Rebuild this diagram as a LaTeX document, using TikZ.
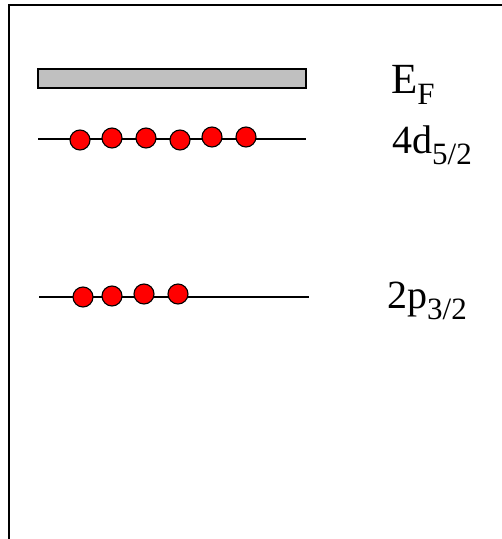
\documentclass[tikz,border=0pt]{standalone}
\usepackage{fontspec}
\setmainfont{Liberation Serif}
\usetikzlibrary{positioning}

\newcommand{\lvltext}[3]{{\fontsize{#1}{#1}\selectfont #2}\raisebox{-11pt}{\fontsize{31}{31}\selectfont #3}}

\begin{document}
\begin{tikzpicture}[x=1pt,y=-1pt,
 electron/.style={circle,draw,fill=red,line width=1.1pt,minimum size=20pt,inner sep=0pt},
 level/.style={line width=1.3pt},
 lbl/.style={anchor=base west,inner sep=0pt}]
\useasboundingbox (0,0) rectangle (502,539);
% frame
\draw[line width=2pt] (9,539) -- (9,5) -- (502,5);
% Fermi level
\node[draw,fill={rgb,255:red,192;green,192;blue,192},line width=1.3pt,
 minimum width=268pt,minimum height=19pt,inner sep=0pt] (fermi) at (172,78.5) {};
\node[lbl] (ef) at (391,93) {\lvltext{43}{E}{F}};
% 4d level
\coordinate (d1) at (38,139);
\coordinate (d2) at (306,139);
\draw[level] (d1) -- (d2);
\foreach \x/\y [count=\i] in {80/140,112/138,146/138,180/140,212/137,246/137}
 \node[electron] (d\i e) at (\x,\y) {};
\node[lbl] (dlbl) at (392,153) {\lvltext{40}{4d}{5/2}};
% 2p level
\coordinate (p1) at (39,297);
\coordinate (p2) at (309,297);
\draw[level] (p1) -- (p2);
\foreach \x/\y [count=\i] in {83/297,112/296,144/294,178/294}
 \node[electron] (p\i e) at (\x,\y) {};
\node[lbl] (plbl) at (387,308) {\lvltext{40}{2p}{3/2}};
\end{tikzpicture}
\end{document}
